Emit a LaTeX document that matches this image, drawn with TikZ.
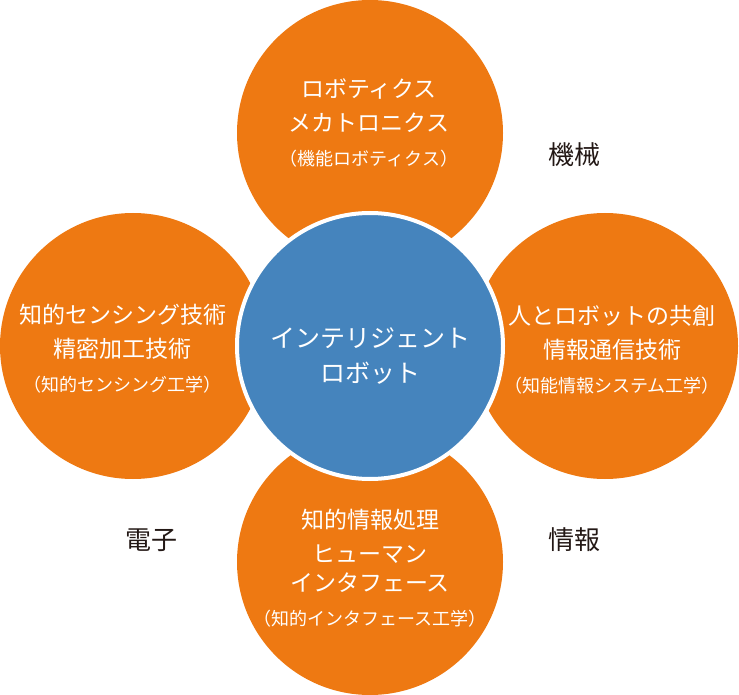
\documentclass[tikz,border=0pt]{standalone}
\usepackage{fontspec}
\setmainfont{Noto Sans CJK JP}
\usetikzlibrary{positioning,calc}
\definecolor{orng}{RGB}{238,121,18}
\definecolor{blu}{RGB}{69,132,189}
\definecolor{ink}{RGB}{35,24,21}
\tikzset{ocirc/.style={circle,fill=orng,minimum size=266pt,inner sep=0pt}  }
\tikzset{bcirc/.style={circle,fill=blu,draw=white,line width=4pt,minimum size=266pt,inner sep=0pt}  }
\tikzset{wtext/.style={text=white,align=center,inner sep=0pt,font=\fontsize{23}{34}\selectfont}  }
\tikzset{ktext/.style={text=ink,inner sep=0pt,font=\fontsize{26}{30}\selectfont}  }
\def\sm{\fontsize{18}{34}\selectfont}

\begin{document}
\begin{tikzpicture}[x=1pt,y=-1pt]
		\useasboundingbox (0,0) rectangle (739,695);
		\node[ocirc] (mech) at (370,133) {};
			\node[ocirc] (elec) at (133,346) {};
			\node[ocirc] (info) at (605,346) {};
			\node[ocirc] (hci) at (370,562) {};
			\node[bcirc] (core) at (370,346) {};

		\node[wtext] (mechtxt) at (369,123) {ロボティクス\\メカトロニクス\\{\sm （機能ロボティクス）}};
			\node[wtext] (electxt) at (123,349) {知的センシング技術\\精密加工技術\\{\sm （知的センシング工学）}};
			\node[wtext] (infotxt) at (612,350) {人とロボットの共創\\情報通信技術\\{\sm （知能情報システム工学）}};
			\node[wtext] (hcitxt) at (370,568) {知的情報処理\\ヒューマン\\[-5pt]インタフェース\\{\sm （知的インタフェース工学）}};
			\node[wtext,font=\fontsize{25}{35}\selectfont] (coretxt) at (370,356) {インテリジェント\\ロボット};

				\node[ktext] (mechlbl) at (574,155) {機械}; 
				\node[ktext] (eleclbl) at (151,540) {電子}; 
				\node[ktext] (infolbl) at (574,540) {情報}; 
	\end{tikzpicture}
\end{document}
